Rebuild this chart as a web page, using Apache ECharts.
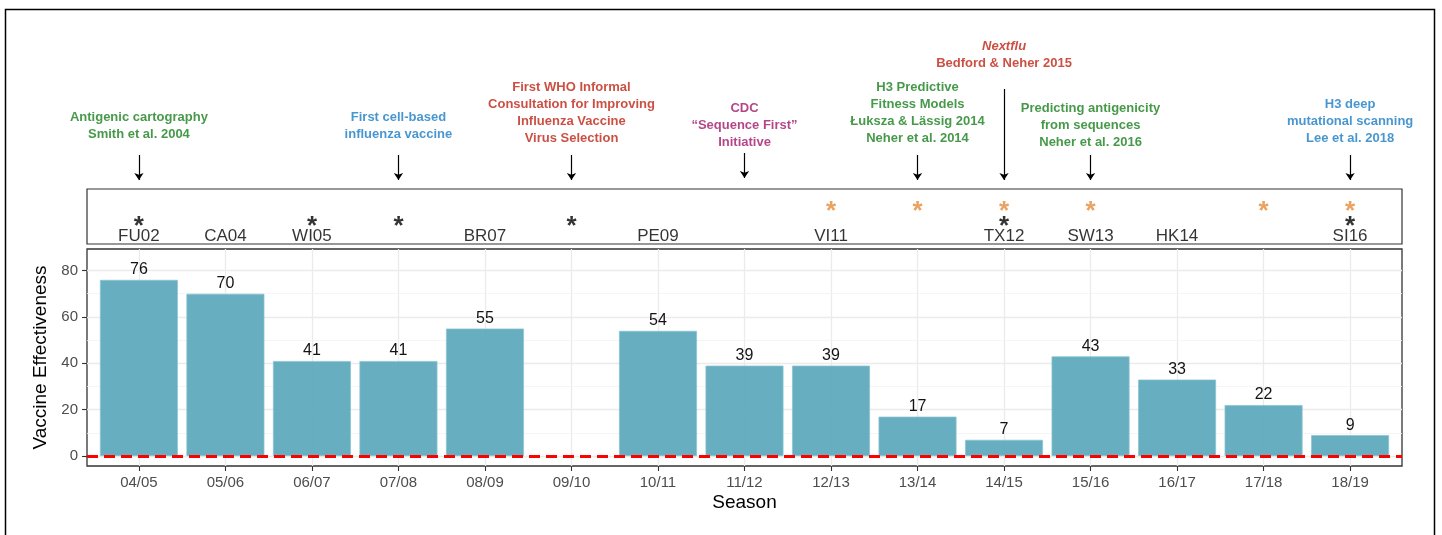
<!DOCTYPE html>
<html>
<head>
<meta charset="utf-8">
<script src="https://cdn.jsdelivr.net/npm/echarts@6/dist/echarts.min.js"></script>
<style>
html,body{margin:0;padding:0;background:#fff;}
#chart{width:1442px;height:535px;}
</style>
</head>
<body>
<div id="chart"></div>
<script>
// ---- data ----
const seasons = ['04/05','05/06','06/07','07/08','08/09','09/10','10/11','11/12','12/13','13/14','14/15','15/16','16/17','17/18','18/19'];
const vaccineEffectiveness = [76, 70, 41, 41, 55, null, 54, 39, 39, 17, 7, 43, 33, 22, 9];
const strainLabels = ['FU02','CA04','WI05','','BR07','','PE09','','VI11','','TX12','SW13','HK14','','SI16'];
const blackStar  = [1,0,1,1,0,1,0,0,0,0,1,0,0,0,1];
const orangeStar = [0,0,0,0,0,0,0,0,1,1,1,1,0,1,1];
const yTicks = [0, 20, 40, 60, 80];
const yMinor = [10, 30, 50, 70];

// annotations (category index, text, colour, text bottom, arrow start, arrow end; heights above strain panel)
const annIndex = [0, 3, 5, 7, 9, 10, 11, 14];
const annText = [
  'Antigenic cartography\nSmith et al. 2004',
  'First cell-based\ninfluenza vaccine',
  'First WHO Informal\nConsultation for Improving\nInfluenza Vaccine\nVirus Selection',
  'CDC\n\u201cSequence First\u201d\nInitiative',
  'H3 Predictive\nFitness Models\n\u0141uksza & L\u00e4ssig 2014\nNeher et al. 2014',
  '{it|Nextflu}\n{b|Bedford & Neher 2015}',
  'Predicting antigenicity\nfrom sequences\nNeher et al. 2016',
  'H3 deep\nmutational scanning\nLee et al. 2018'
];
const GREEN = '#187f1c', BLUE = '#1a7cc4', RED = '#be2414', MAGENTA = '#a0186a';
const annColor = [GREEN, BLUE, RED, MAGENTA, GREEN, RED, GREEN, BLUE];
const annTextBottom = [46, 46, 42, 38, 42, 117, 38, 42];
const annArrowStart = [34, 34, 34, 36, 34, 100, 34, 34];
const annArrowEnd   = [9, 9, 9, 11, 9, 9, 9, 9];

// ---- chart ----
const FONT = '"Liberation Sans", Arial, Helvetica, sans-serif';
const idx = seasons.map((_, i) => i);
const PL = 87, PW = 1315;

const chart = echarts.init(document.getElementById('chart'), null, {renderer: 'canvas'});

const hiddenX = (gi) => ({type: 'value', gridIndex: gi, min: -0.6, max: 14.6, show: false});

const option = {
  backgroundColor: '#fff',
  animation: false,
  textStyle: {fontFamily: FONT},
  graphic: [{
    type: 'rect', silent: true, z: 100,
    shape: {x: 5.5, y: 9.5, width: 1429, height: 560},
    style: {fill: 'none', stroke: '#000', lineWidth: 1.5}
  }],
  grid: [
    {left: PL, top: 249, width: PW, height: 217, show: true, borderColor: '#333', borderWidth: 1.3, backgroundColor: 'transparent'},
    {left: PL, top: 189, width: PW, height: 55, show: true, borderColor: '#333', borderWidth: 1.2, backgroundColor: 'transparent'},
    {left: PL, top: 30, width: PW, height: 159, show: false}
  ],
  xAxis: [
    {
      type: 'value', gridIndex: 0, min: -0.6, max: 14.6,
      name: 'Season', nameLocation: 'middle', nameGap: 27,
      nameTextStyle: {fontSize: 19, color: '#000', fontFamily: FONT},
      axisLine: {show: false, onZero: false},
      axisTick: {show: true, length: 5, customValues: idx, lineStyle: {color: '#333', width: 1.1}},
      axisLabel: {show: true, customValues: idx, margin: 9, fontSize: 15, color: '#4d4d4d', fontFamily: FONT,
                  formatter: v => seasons[Math.round(v)]},
      splitLine: {show: false}
    },
    hiddenX(1),
    hiddenX(2)
  ],
  yAxis: [
    {
      type: 'value', gridIndex: 0, min: -4.3, max: 89.3,
      name: 'Vaccine Effectiveness', nameLocation: 'middle', nameGap: 28,
      nameTextStyle: {fontSize: 19, color: '#000', fontFamily: FONT},
      axisLine: {show: false, onZero: false},
      axisTick: {show: true, length: 5, customValues: yTicks, lineStyle: {color: '#333', width: 1.1}},
      axisLabel: {show: true, customValues: yTicks, margin: 9, fontSize: 15, color: '#4d4d4d', fontFamily: FONT},
      splitLine: {show: false}
    },
    {type: 'value', gridIndex: 1, min: -0.47, max: 3.06, show: false},
    {type: 'value', gridIndex: 2, min: 0, max: 159, show: false}
  ],
  series: [
    // grid lines
    {
      type: 'scatter', xAxisIndex: 0, yAxisIndex: 0, silent: true, z: 1,
      symbolSize: 0, data: [[0, vaccineEffectiveness[0]]],
      markLine: {
        silent: true, symbol: 'none', z: 1, label: {show: false},
        data: [
          ...idx.map(i => ({xAxis: i, lineStyle: {color: '#ebebeb', width: 1.3, type: 'solid'}})),
          ...yTicks.map(v => ({yAxis: v, lineStyle: {color: '#ebebeb', width: 1.3, type: 'solid'}})),
          ...yMinor.map(v => ({yAxis: v, lineStyle: {color: '#f2f2f2', width: 0.8, type: 'solid'}}))
        ]
      }
    },
    // bars
    {
      type: 'bar', xAxisIndex: 0, yAxisIndex: 0, z: 2,
      barWidth: 78,
      data: vaccineEffectiveness.map((v, i) => v == null ? null : [i, v]).filter(d => d),
      itemStyle: {color: '#5ba8bb', opacity: 0.93, borderColor: '#8cc3d1', borderWidth: 0.8},
      label: {show: true, position: 'top', distance: 2, fontSize: 16, color: '#000', fontFamily: FONT,
              formatter: p => p.value[1]},
      markLine: {
        silent: true, symbol: 'none', z: 10, label: {show: false},
        data: [{yAxis: 0}],
        lineStyle: {color: '#ff0000', width: 2.8, type: [11, 6]}
      }
    },
    // strain labels
    {
      type: 'scatter', xAxisIndex: 1, yAxisIndex: 1, symbolSize: 0, silent: true,
      data: strainLabels.map((s, i) => ({value: [i, 0], name: s})).filter(d => d.name),
      label: {show: true, position: 'inside', fontSize: 17, color: '#000', fontFamily: FONT, formatter: p => p.name}
    },
    // black stars
    {
      type: 'scatter', xAxisIndex: 1, yAxisIndex: 1, symbolSize: 0, silent: true,
      data: blackStar.map((b, i) => b ? [i, 1] : null).filter(d => d),
      label: {show: true, position: 'inside', offset: [0, 6], fontSize: 26, fontWeight: 'bold', color: '#000', fontFamily: FONT, formatter: '*'}
    },
    // orange stars
    {
      type: 'scatter', xAxisIndex: 1, yAxisIndex: 1, symbolSize: 0, silent: true,
      data: orangeStar.map((b, i) => b ? [i, 2] : null).filter(d => d),
      label: {show: true, position: 'inside', offset: [0, 6], fontSize: 26, fontWeight: 'bold', color: '#e68a38', fontFamily: FONT, formatter: '*'}
    },
    // annotation texts
    {
      type: 'scatter', xAxisIndex: 2, yAxisIndex: 2, symbolSize: 0, silent: true,
      data: annIndex.map((c, k) => ({
        value: [c, annTextBottom[k]],
        label: {
          formatter: annText[k], color: annColor[k],
          rich: {
            it: {fontStyle: 'italic', fontWeight: 'bold', fontSize: 13, lineHeight: 17, color: annColor[k], fontFamily: FONT},
            b: {fontWeight: 'bold', fontSize: 13, lineHeight: 17, color: annColor[k], fontFamily: FONT}
          }
        }
      })),
      label: {show: true, position: 'top', distance: 0, align: 'center', fontSize: 13, fontWeight: 'bold', lineHeight: 17, fontFamily: FONT}
    },
    // arrows
    {
      type: 'lines', coordinateSystem: 'cartesian2d', xAxisIndex: 2, yAxisIndex: 2, silent: true,
      symbol: ['none', 'arrow'], symbolSize: [0, 7],
      lineStyle: {color: '#000', width: 1.2, opacity: 1, curveness: 0},
      data: annIndex.map((c, k) => ({coords: [[c, annArrowStart[k]], [c, annArrowEnd[k]]]}))
    }
  ]
};
chart.setOption(option);
</script>
</body>
</html>
